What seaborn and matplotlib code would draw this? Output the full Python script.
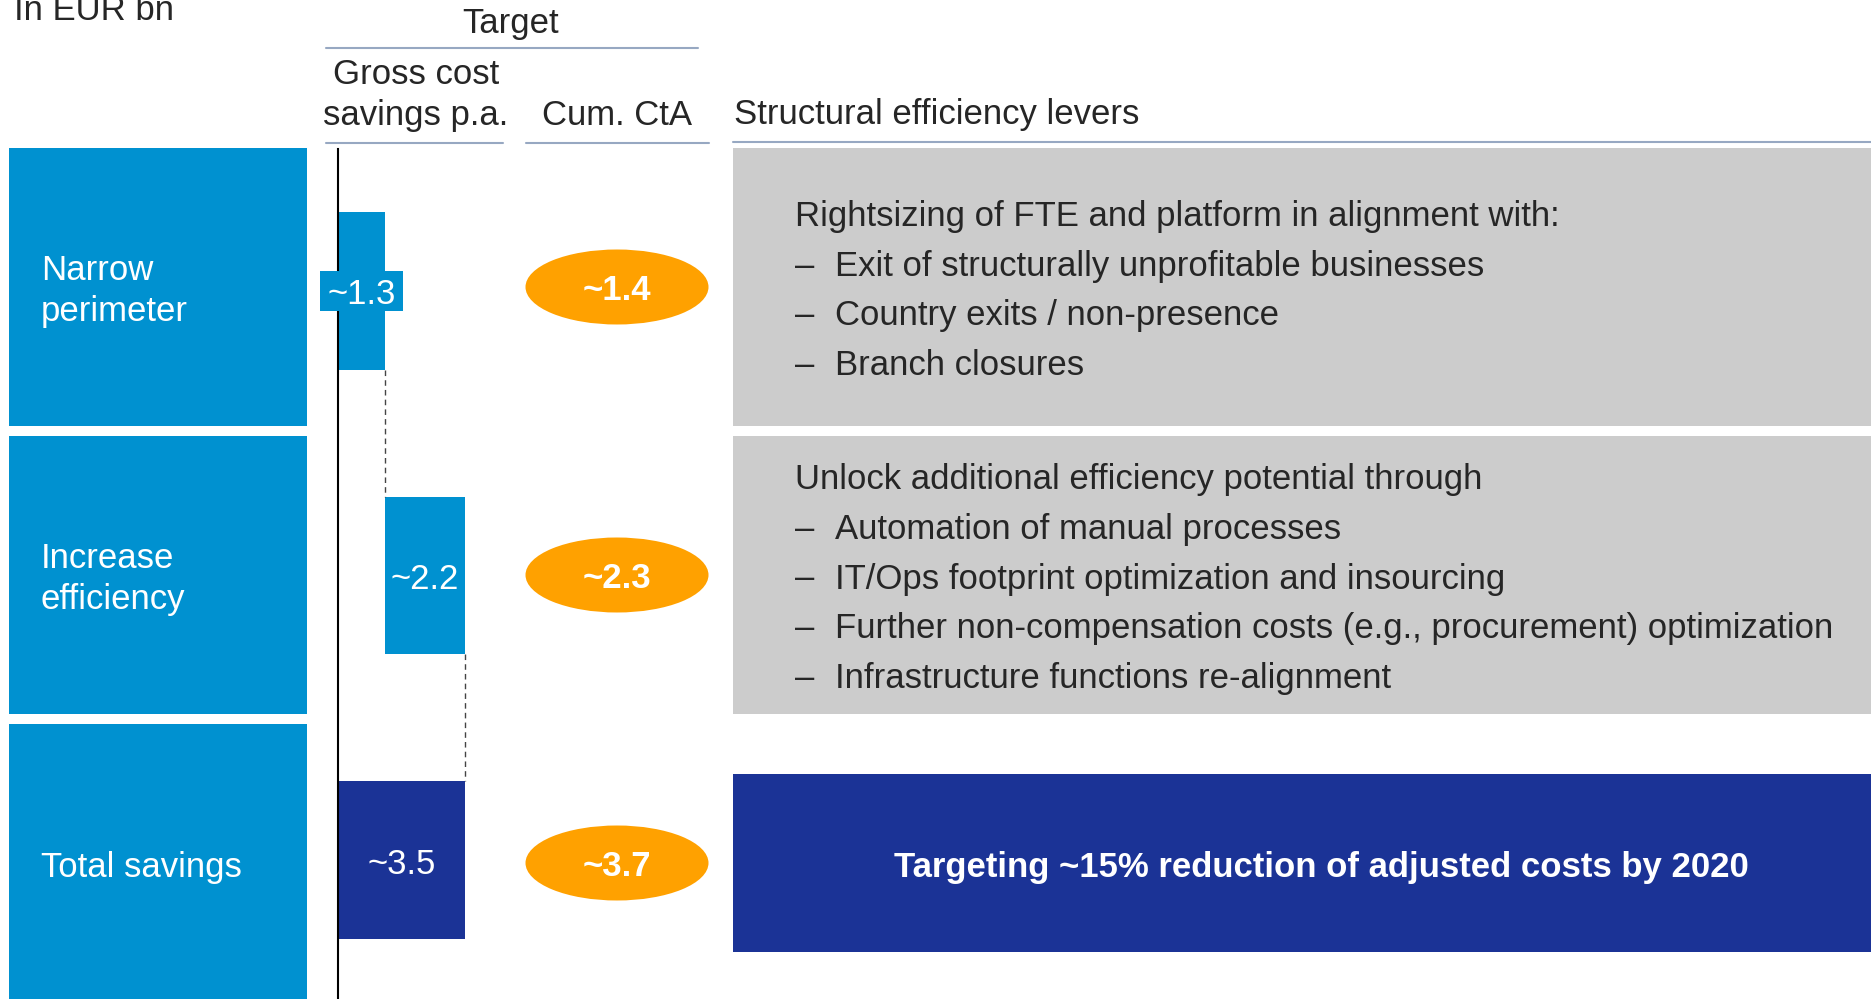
# Cost savings waterfall - structural efficiency levers

import matplotlib
matplotlib.use("Agg")
import matplotlib.pyplot as plt
from matplotlib.patches import Rectangle, Ellipse
import numpy as np
import pandas as pd
import seaborn as sns

# data
categories = ["Narrow perimeter", "Increase efficiency", "Total savings"]
row_labels = ["Narrow\nperimeter", "Increase\nefficiency", "Total savings"]
gross_savings = [1.3, 2.2, 3.5]
cum_cta = [1.4, 2.3, 3.7]
is_total = [False, False, True]

lever_heads = [
    "Rightsizing of FTE and platform in alignment with:",
    "Unlock additional efficiency potential through",
    "Targeting ~15% reduction of adjusted costs by 2020",
]
lever_items = [
    ["Exit of structurally unprofitable businesses",
     "Country exits / non-presence",
     "Branch closures"],
    ["Automation of manual processes",
     "IT/Ops footprint optimization and insourcing",
     "Further non-compensation costs (e.g., procurement) optimization",
     "Infrastructure functions re-alignment"],
    [],
]

# colours
LIGHT_BLUE = "#0091D0"
DARK_BLUE = "#1B3396"
ORANGE = "#FFA100"
GREY = "#CCCCCC"
RULE = "#97A8C2"

# waterfall bases / ends
ends, bases = [], []
running = 0.0
for val, tot in zip(gross_savings, is_total):
    if tot:
        bases.append(0.0)
        ends.append(val)
    else:
        bases.append(running)
        running += val
        ends.append(running)

df = pd.DataFrame({"category": categories, "end": ends, "base": bases,
                   "value": gross_savings})
bar_colors = [DARK_BLUE if t else LIGHT_BLUE for t in is_total]

sns.set_style("white")
plt.rcParams["font.family"] = ["Liberation Sans", "DejaVu Sans"]

W, H = 1871, 999
fig = plt.figure(figsize=(W / 100, H / 100), dpi=100)

# background axes in pixel coordinates for the slide furniture
bg = fig.add_axes([0, 0, 1, 1])
bg.set_xlim(0, W)
bg.set_ylim(H, 0)
bg.axis("off")

FS = 25
DY = 4  # centred text sits a little low on the slide
ROW_TOP, ROW_PITCH, ROW_H = 148, 288, 278

# headers
bg.text(14, 20, "In EUR bn", fontsize=FS, va="baseline", ha="left")
bg.text(511, 33, "Target", fontsize=FS, va="baseline", ha="center")
bg.plot([326, 698], [48, 48], color=RULE, lw=1.5)
bg.text(416, 125, "Gross cost\nsavings p.a.", fontsize=FS, va="baseline",
        ha="center", linespacing=1.3)
bg.text(617, 125, "Cum. CtA", fontsize=FS, va="baseline", ha="center")
bg.text(734, 124, "Structural efficiency levers", fontsize=FS,
        va="baseline", ha="left")
bg.plot([326, 503], [143, 143], color=RULE, lw=1.5)
bg.plot([526, 709], [143, 143], color=RULE, lw=1.5)
bg.plot([733, W], [142, 142], color=RULE, lw=1.5)

for i, label in enumerate(row_labels):
    top = ROW_TOP + i * ROW_PITCH
    mid = top + ROW_H / 2
    # left category box
    bg.add_patch(Rectangle((9, top), 298, ROW_H, color=LIGHT_BLUE, lw=0))
    bg.text(41, mid + DY, label, color="white", fontsize=FS, va="center",
            ha="left", linespacing=1.34)
    # cumulative CtA bubble
    bg.add_patch(Ellipse((617, mid), 183, 75, color=ORANGE, lw=0))
    bg.text(617, mid + DY, f"~{cum_cta[i]:.1f}", color="white", fontsize=FS,
            fontweight="bold", va="center", ha="center")
    # lever box
    if is_total[i]:
        bg.add_patch(Rectangle((733, mid - 89), W - 733, 178,
                               color=DARK_BLUE, lw=0))
        bg.text(1321, mid + DY, lever_heads[i], color="white", fontsize=FS,
                fontweight="bold", va="center", ha="center")
    else:
        bg.add_patch(Rectangle((733, top), W - 733, ROW_H, color=GREY, lw=0))
        lines = [lever_heads[i]] + lever_items[i]
        step = 49.7
        y0 = mid + DY - step * (len(lines) - 1) / 2
        for j, line in enumerate(lines):
            y = y0 + j * step
            if j == 0:
                bg.text(795, y, line, fontsize=FS, va="center", ha="left")
            else:
                bg.text(795, y, "\u2013", fontsize=FS, va="center", ha="left")
                bg.text(835, y, line, fontsize=FS, va="center", ha="left")

# waterfall axes: x = EUR bn, y = categories
PX_PER_UNIT = 36.3
XMAX = 4.0
BAR_TOP, BAR_PITCH = 148.75, 284.5
ylim_bottom = -0.5 + (H - BAR_TOP) / BAR_PITCH
ax = fig.add_axes([338 / W, 0, XMAX * PX_PER_UNIT / W, (H - BAR_TOP) / H])
ax.patch.set_alpha(0)

BAR_W = 0.555
sns.barplot(data=df, x="end", y="category", hue="category",
            palette=bar_colors, width=BAR_W, saturation=1, legend=False,
            orient="h", linewidth=0, ax=ax)
sns.barplot(data=df, x="base", y="category", color="white",
            width=BAR_W, saturation=1, orient="h", linewidth=0, ax=ax)

ax.set_xlim(0, XMAX)
ax.set_ylim(ylim_bottom, -0.5)
ax.set_xticks([])
ax.set_yticks([])
ax.set_xlabel("")
ax.set_ylabel("")
for s in ["top", "right", "bottom"]:
    ax.spines[s].set_visible(False)
ax.spines["left"].set_color("black")
ax.spines["left"].set_linewidth(1.5)

# connectors between steps
half = BAR_W / 2
for i in range(len(categories) - 1):
    ax.plot([ends[i], ends[i]], [i + half, i + 1 - half], ls=(0, (4, 3)),
            color="#444444", lw=1)

# value labels
dy = DY / BAR_PITCH
for i, (b, e, v) in enumerate(zip(bases, ends, gross_savings)):
    cx = (b + e) / 2
    if e - b < 2.0:
        box_w, box_h = 2.29, 0.144
        ax.add_patch(Rectangle((cx - box_w / 2, i - box_h / 2), box_w, box_h,
                               color=LIGHT_BLUE, lw=0, zorder=3, clip_on=False))
    ax.text(cx, i + dy, f"~{v:.1f}", color="white", fontsize=FS, va="center",
            ha="center", zorder=4, clip_on=False)

fig.savefig("out.png", dpi=100)
